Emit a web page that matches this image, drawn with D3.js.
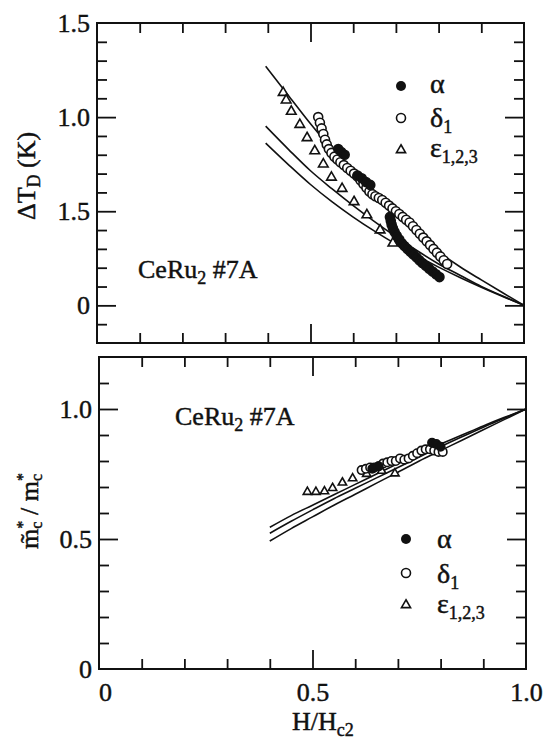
<!DOCTYPE html>
<html>
<head>
<meta charset="utf-8">
<script src="https://cdn.jsdelivr.net/npm/d3@7"></script>
<style>
body { margin: 0; background: #fff; }
svg text { font-family: "Liberation Serif", "Times New Roman", Times, serif; fill: #111; stroke: #111; stroke-width: 0.45px; }
</style>
</head>
<body>
<svg id="chart" width="547" height="741"></svg>
<script>
//Dingle temperature and mass ratio vs H/Hc2 for CeRu2 #7A

const TOP_X_RANGE = [97, 524];
const TOP_Y_RANGE = [343, 23];
const BOT_X_RANGE = [99, 526];
const BOT_Y_RANGE = [669, 357];
const MINOR_LEN = 10;
const MAJOR_LEN = 19;
const INK = "#111";
const SERIF = "'Liberation Serif', 'Times New Roman', Times, serif";

//Ticks and labels
const H_MINOR_TICKS = [0.1, 0.2, 0.3, 0.4, 0.6, 0.7, 0.8, 0.9];
const H_MAJOR_TICKS = [0.5];
const H_TICK_VALUES = [0, 0.5, 1.0];
const H_TICK_LABELS = ["0", "0.5", "1.0"];
const TD_MINOR_TICKS = [-0.1, 0.1, 0.2, 0.3, 0.4, 0.6, 0.7, 0.8, 0.9, 1.1, 1.2, 1.3, 1.4];
const TD_MAJOR_TICKS = [0, 0.5, 1.0];
const TD_TICK_VALUES = [0, 0.5, 1.0, 1.5];
const TD_TICK_LABELS = ["0", "1.5", "1.0", "1.5"];
const M_MINOR_TICKS = [0.1, 0.2, 0.3, 0.4, 0.6, 0.7, 0.8, 0.9, 1.1];
const M_MAJOR_TICKS = [0.5, 1.0];
const M_TICK_VALUES = [0, 0.5, 1.0];
const M_TICK_LABELS = ["0", "0.5", "1.0"];

//Theory curves, top panel
const TD_CURVE_H = [0.395, 0.45, 0.50, 0.55, 0.60, 0.65, 0.70, 0.75, 0.80, 0.85, 0.90, 0.95, 1.00];
const TD_CURVE_1 = [1.27, 1.11, 0.965, 0.83, 0.705, 0.59, 0.48, 0.38, 0.285, 0.205, 0.135, 0.067, 0];
const TD_CURVE_2 = [0.952, 0.825, 0.715, 0.62, 0.53, 0.445, 0.365, 0.29, 0.22, 0.16, 0.10, 0.05, 0];
const TD_CURVE_3 = [0.862, 0.744, 0.642, 0.551, 0.469, 0.394, 0.325, 0.262, 0.203, 0.148, 0.096, 0.047, 0];

//Measured points, top panel
const TD_EPS_H = [0.436, 0.443, 0.455, 0.475, 0.492, 0.510, 0.530, 0.549, 0.574, 0.602, 0.632, 0.663, 0.693];
const TD_EPS = [1.13, 1.09, 1.03, 0.96, 0.89, 0.82, 0.75, 0.68, 0.62, 0.55, 0.48, 0.40, 0.33];
const TD_DELTA_H = [0.518, 0.522, 0.526, 0.530, 0.534, 0.538, 0.543, 0.549, 0.556, 0.563, 0.570, 0.578, 0.586, 0.594, 0.602, 0.610, 0.617, 0.624, 0.631, 0.638, 0.645, 0.652, 0.660, 0.668, 0.676, 0.684, 0.692, 0.700, 0.708, 0.716, 0.724, 0.732, 0.740, 0.748, 0.756, 0.764, 0.772, 0.780, 0.788, 0.796, 0.804, 0.812, 0.820];
const TD_DELTA = [1.00, 0.97, 0.94, 0.91, 0.88, 0.855, 0.83, 0.81, 0.79, 0.775, 0.76, 0.745, 0.73, 0.715, 0.70, 0.685, 0.665, 0.645, 0.625, 0.605, 0.59, 0.58, 0.57, 0.56, 0.545, 0.53, 0.515, 0.50, 0.485, 0.47, 0.455, 0.44, 0.42, 0.40, 0.38, 0.36, 0.34, 0.32, 0.30, 0.28, 0.26, 0.24, 0.22];
const TD_ALPHA_H = [0.565, 0.572, 0.580, 0.610, 0.620, 0.630, 0.640, 0.686, 0.688, 0.690, 0.693, 0.697, 0.702, 0.708, 0.714, 0.720, 0.727, 0.734, 0.741, 0.748, 0.755, 0.762, 0.770, 0.778, 0.786, 0.794, 0.802];
const TD_ALPHA = [0.83, 0.815, 0.80, 0.69, 0.675, 0.655, 0.64, 0.47, 0.45, 0.43, 0.41, 0.39, 0.37, 0.35, 0.33, 0.315, 0.30, 0.285, 0.27, 0.255, 0.24, 0.225, 0.21, 0.195, 0.18, 0.165, 0.15];

//Theory curves, bottom panel
const M_CURVE_H = [0.40, 0.45, 0.50, 0.55, 0.60, 0.65, 0.70, 0.75, 0.80, 0.85, 0.90, 0.95, 1.00];
const M_CURVE_1 = [0.545, 0.59, 0.63, 0.67, 0.71, 0.75, 0.79, 0.83, 0.865, 0.90, 0.935, 0.968, 1.0];
const M_CURVE_2 = [0.522, 0.568, 0.612, 0.655, 0.695, 0.735, 0.775, 0.815, 0.855, 0.893, 0.93, 0.965, 1.0];
const M_CURVE_3 = [0.492, 0.54, 0.585, 0.63, 0.672, 0.715, 0.757, 0.80, 0.84, 0.88, 0.92, 0.96, 1.0];

//Measured points, bottom panel
const M_EPS_H = [0.488, 0.508, 0.528, 0.547, 0.570, 0.594, 0.627, 0.662, 0.693];
const M_EPS = [0.681, 0.681, 0.683, 0.696, 0.717, 0.733, 0.750, 0.762, 0.752];
const M_DELTA_H = [0.615, 0.625, 0.635, 0.645, 0.655, 0.665, 0.675, 0.685, 0.695, 0.705, 0.715, 0.725, 0.735, 0.745, 0.755, 0.765, 0.775, 0.785, 0.795, 0.805];
const M_DELTA = [0.765, 0.77, 0.775, 0.775, 0.78, 0.79, 0.795, 0.80, 0.80, 0.81, 0.805, 0.81, 0.82, 0.83, 0.84, 0.845, 0.845, 0.84, 0.835, 0.835];
const M_ALPHA_H = [0.640, 0.655, 0.780, 0.790, 0.800];
const M_ALPHA = [0.77, 0.78, 0.87, 0.865, 0.855];

const svg = d3.select("#chart");

//Frame with inward ticks on all four sides
function draw_frame(x, y, x_minor, x_major, y_minor, y_major)
{
	const [x0, x1] = x.range();
	const [y0, y1] = y.range();
	svg.append("rect")
		.attr("x", x0).attr("y", y1)
		.attr("width", x1 - x0).attr("height", y0 - y1)
		.attr("fill", "none").attr("stroke", INK).attr("stroke-width", 2);
	const sides = [
		[d3.axisBottom, x, x_minor, x_major, `translate(0,${y0})`],
		[d3.axisTop, x, x_minor, x_major, `translate(0,${y1})`],
		[d3.axisLeft, y, y_minor, y_major, `translate(${x0},0)`],
		[d3.axisRight, y, y_minor, y_major, `translate(${x1},0)`]
	];
	for (const [axis_fn, scale, minor, major, tr] of sides)
	{
		for (const [vals, len] of [[minor, MINOR_LEN], [major, MAJOR_LEN]])
		{
			const g = svg.append("g").attr("transform", tr)
				.call(axis_fn(scale).tickValues(vals).tickSize(-len).tickFormat(""));
			g.select(".domain").remove();
			g.selectAll("line").attr("stroke", INK).attr("stroke-width", 1.8);
		}
	}
}

//Tick labels through axes without tick marks
function draw_labels(axis, tr, values, labels, pad)
{
	const g = svg.append("g").attr("transform", tr)
		.call(axis.tickValues(values).tickSize(0).tickPadding(pad).tickFormat((d, i) => labels[i]));
	g.attr("font-family", SERIF);
	g.select(".domain").remove();
	g.selectAll("text").attr("font-size", 26).attr("fill", INK)
		.style("font-family", SERIF);
	return g;
}

function draw_curves(x, y, hs, curves)
{
	const line = d3.line().x(d => x(d[0])).y(d => y(d[1])).curve(d3.curveMonotoneX);
	for (const c of curves)
		svg.append("path").datum(d3.zip(hs, c))
			.attr("d", line).attr("fill", "none")
			.attr("stroke", INK).attr("stroke-width", 1.6);
}

function draw_triangles(x, y, hs, vs, size)
{
	svg.append("g").selectAll("path").data(d3.zip(hs, vs)).enter().append("path")
		.attr("transform", d => `translate(${x(d[0])},${y(d[1])})`)
		.attr("d", d3.symbol(d3.symbolTriangle, size))
		.attr("fill", "#fff").attr("stroke", INK).attr("stroke-width", 1.6);
}

function draw_circles(x, y, hs, vs, r, filled)
{
	svg.append("g").selectAll("circle").data(d3.zip(hs, vs)).enter().append("circle")
		.attr("cx", d => x(d[0])).attr("cy", d => y(d[1])).attr("r", r)
		.attr("fill", filled ? INK : "#fff").attr("stroke", INK).attr("stroke-width", 1.6);
}

//Legend: filled circle, open circle, triangle
function draw_legend(mx, tx, my, ty)
{
	svg.append("circle").attr("cx", mx).attr("cy", my[0]).attr("r", 5).attr("fill", INK);
	svg.append("circle").attr("cx", mx).attr("cy", my[1]).attr("r", 4.5)
		.attr("fill", "#fff").attr("stroke", INK).attr("stroke-width", 1.6);
	svg.append("path").attr("transform", `translate(${mx},${my[2]})`)
		.attr("d", d3.symbol(d3.symbolTriangle, 36))
		.attr("fill", "#fff").attr("stroke", INK).attr("stroke-width", 1.6);
	svg.append("text").attr("x", tx).attr("y", ty[0]).attr("font-size", 28).text("α");
	const d = svg.append("text").attr("x", tx).attr("y", ty[1]).attr("font-size", 28).text("δ");
	d.append("tspan").attr("dy", 6).attr("font-size", 18).text("1");
	const e = svg.append("text").attr("x", tx).attr("y", ty[2]).attr("font-size", 28).text("ε");
	e.append("tspan").attr("dy", 6).attr("font-size", 18).text("1,2,3");
}

function draw_sample(x, y)
{
	const t = svg.append("text").attr("x", x).attr("y", y).attr("font-size", 26).text("CeRu");
	t.append("tspan").attr("dy", 6).attr("font-size", 18).text("2");
	t.append("tspan").attr("dy", -6).text(" #7A");
}

// ---------- Top panel ----------
const xt = d3.scaleLinear().domain([0, 1]).range(TOP_X_RANGE);
const yt = d3.scaleLinear().domain([-0.2, 1.5]).range(TOP_Y_RANGE);
draw_frame(xt, yt, H_MINOR_TICKS, H_MAJOR_TICKS, TD_MINOR_TICKS, TD_MAJOR_TICKS);
draw_labels(d3.axisLeft(yt), `translate(${TOP_X_RANGE[0]},0)`, TD_TICK_VALUES, TD_TICK_LABELS, 7);
draw_curves(xt, yt, TD_CURVE_H, [TD_CURVE_1, TD_CURVE_2, TD_CURVE_3]);
draw_triangles(xt, yt, TD_EPS_H, TD_EPS, 40);
draw_circles(xt, yt, TD_DELTA_H, TD_DELTA, 4.5, false);
draw_circles(xt, yt, TD_ALPHA_H, TD_ALPHA, 4.5, true);
draw_legend(401, 430, [86, 118, 150], [93, 127, 157]);
draw_sample(138, 278);

//Top y title
const tt = svg.append("text").attr("transform", "translate(35,176) rotate(-90)")
	.attr("text-anchor", "middle").attr("font-size", 26).text("ΔT");
tt.append("tspan").attr("dy", 5).attr("font-size", 18).text("D");
tt.append("tspan").attr("dy", -5).text(" (K)");

// ---------- Bottom panel ----------
const xb = d3.scaleLinear().domain([0, 1]).range(BOT_X_RANGE);
const yb = d3.scaleLinear().domain([0, 1.2]).range(BOT_Y_RANGE);
draw_frame(xb, yb, H_MINOR_TICKS, H_MAJOR_TICKS, M_MINOR_TICKS, M_MAJOR_TICKS);
draw_labels(d3.axisLeft(yb), `translate(${BOT_X_RANGE[0]},0)`, M_TICK_VALUES, M_TICK_LABELS, 7);
const xl = draw_labels(d3.axisBottom(xb), `translate(0,${BOT_Y_RANGE[0]})`, H_TICK_VALUES, H_TICK_LABELS, 14);
xl.selectAll("text").filter((d, i) => i == 0).attr("dx", 6);
draw_curves(xb, yb, M_CURVE_H, [M_CURVE_1, M_CURVE_2, M_CURVE_3]);
draw_triangles(xb, yb, M_EPS_H, M_EPS, 30);
draw_circles(xb, yb, M_DELTA_H, M_DELTA, 4.2, false);
draw_circles(xb, yb, M_ALPHA_H, M_ALPHA, 4.2, true);
draw_legend(406, 437, [539, 573, 605], [548, 583, 613]);
draw_sample(175, 425);

//Bottom y title
const bt = svg.append("text").attr("transform", "translate(38,511) rotate(-90)")
	.attr("text-anchor", "middle").attr("font-size", 26).text("m\u0303");
bt.append("tspan").attr("dy", -10).attr("font-size", 16).text("*");
bt.append("tspan").attr("dx", -8).attr("dy", 14).attr("font-size", 16).text("c");
bt.append("tspan").attr("dy", -4).text(" / m");
bt.append("tspan").attr("dy", -10).attr("font-size", 16).text("*");
bt.append("tspan").attr("dx", -8).attr("dy", 14).attr("font-size", 16).text("c");

//X title
const xtl = svg.append("text").attr("x", 292).attr("y", 730).attr("font-size", 26).text("H/H");
xtl.append("tspan").attr("dy", 6).attr("font-size", 18).text("c2");
</script>
</body>
</html>
